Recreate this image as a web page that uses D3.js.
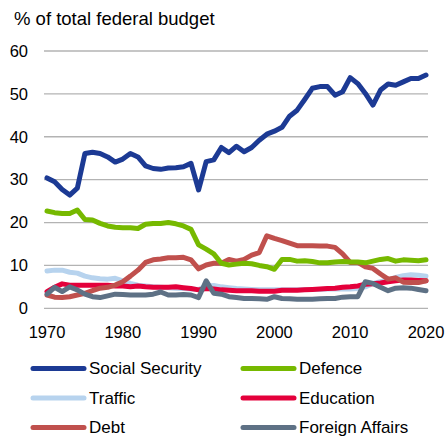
<!DOCTYPE html>
<html>
<head>
<meta charset="utf-8">
<script src="https://cdn.jsdelivr.net/npm/d3@7"></script>
<style>
  body { margin: 0; background: #fff; }
  svg { font-family: "Liberation Sans", Arial, sans-serif; }
</style>
</head>
<body>
<svg id="chart" width="446" height="438"></svg>
<script>
// years 1970..2020
const years = d3.range(1970, 2021)

const socialSecurity = [30.4, 29.5, 27.7, 26.4, 28.0, 36.1, 36.4, 36.1, 35.3, 34.1,
    34.8, 36.1, 35.3, 33.2, 32.6, 32.4, 32.7, 32.8, 33.0, 33.8,
    27.6, 34.2, 34.6, 37.5, 36.3, 37.8, 36.5, 37.5, 39.2, 40.6,
    41.3, 42.2, 44.8, 46.2, 48.7, 51.3, 51.7, 51.7, 49.7, 50.5,
    53.8, 52.4, 50.1, 47.4, 50.9, 52.3, 52.0, 52.8, 53.6, 53.6, 54.4]

const defence = [22.7, 22.3, 22.1, 22.1, 22.9, 20.7, 20.6, 19.8, 19.2, 18.9,
    18.8, 18.8, 18.6, 19.6, 19.8, 19.8, 20.0, 19.7, 19.2, 18.4,
    14.8, 13.8, 12.7, 10.5, 10.1, 10.3, 10.5, 10.4, 10.0, 9.7,
    9.1, 11.4, 11.4, 11.0, 11.1, 10.9, 10.6, 10.6, 10.8, 10.9,
    10.8, 10.8, 10.6, 11.0, 11.4, 11.6, 11.0, 11.3, 11.2, 11.1, 11.3]

const traffic = [8.7, 8.9, 8.9, 8.4, 8.2, 7.5, 7.1, 6.9, 6.8, 7.0,
    6.4, 5.8, 5.4, 5.2, 5.0, 4.9, 4.8, 4.7, 4.6, 4.5,
    4.4, 5.2, 5.3, 5.0, 4.8, 4.6, 4.5, 4.4, 4.3, 4.3,
    4.3, 4.3, 4.3, 4.3, 4.4, 4.4, 4.4, 4.5, 4.5, 4.5,
    4.5, 4.6, 5.0, 5.8, 6.2, 6.6, 7.2, 7.6, 7.8, 7.7, 7.5]

const education = [3.9, 4.9, 5.7, 5.4, 5.4, 5.4, 5.4, 5.4, 5.4, 5.2,
    5.2, 5.0, 5.2, 5.0, 4.9, 4.9, 4.9, 5.0, 4.8, 4.6,
    4.3, 4.6, 4.5, 4.3, 4.2, 4.1, 4.1, 4.1, 4.0, 4.0,
    4.0, 4.2, 4.2, 4.2, 4.3, 4.4, 4.5, 4.6, 4.7, 4.9,
    5.0, 5.2, 5.6, 5.7, 5.9, 6.2, 6.4, 6.6, 6.6, 6.5, 6.4]

const debt = [3.1, 2.6, 2.5, 2.7, 3.1, 3.5, 4.1, 4.7, 4.9, 5.4,
    6.2, 7.5, 8.9, 10.7, 11.3, 11.5, 11.8, 11.8, 11.9, 11.3,
    9.2, 10.1, 10.5, 10.5, 11.4, 11.0, 11.4, 12.4, 13.0, 16.9,
    16.3, 15.8, 15.2, 14.6, 14.6, 14.6, 14.5, 14.5, 14.2, 12.7,
    10.7, 10.7, 9.7, 9.3, 8.0, 6.8, 7.1, 6.1, 6.0, 6.0, 6.4]

const foreignAffairs = [3.3, 4.9, 3.9, 5.0, 4.3, 3.3, 2.7, 2.5, 2.9, 3.3,
    3.2, 3.1, 3.1, 3.1, 3.3, 3.8, 3.1, 3.1, 3.2, 3.1,
    2.5, 6.4, 3.5, 3.3, 2.7, 2.5, 2.3, 2.3, 2.2, 2.1,
    2.7, 2.3, 2.2, 2.1, 2.1, 2.1, 2.2, 2.3, 2.3, 2.6,
    2.7, 2.7, 6.2, 5.8, 4.9, 4.1, 4.7, 4.8, 4.7, 4.4, 4.1]

const yTicks = [0, 10, 20, 30, 40, 50, 60]
const xTicks = [1970, 1980, 1990, 2000, 2010, 2020]

// drawing order (back to front) and legend order
const series = [
    {name: "Traffic", values: traffic, color: "#b7d3ee"},
    {name: "Education", values: education, color: "#e4003b"},
    {name: "Debt", values: debt, color: "#c0504d"},
    {name: "Foreign Affairs", values: foreignAffairs, color: "#5e7185"},
    {name: "Defence", values: defence, color: "#76b900"},
    {name: "Social Security", values: socialSecurity, color: "#1c3a94"}
]
const legendOrder = ["Social Security", "Defence", "Traffic", "Education", "Debt", "Foreign Affairs"]

const svg = d3.select("#chart")

const xRange = d3.scaleLinear().domain([1970, 2020]).range([47, 426])
const yRange = d3.scaleLinear().domain([0, 60]).range([308.3, 51])

svg.append("text")
    .attr("x", 14).attr("y", 25)
    .attr("font-size", 18.5).attr("fill", "#000")
    .text("% of total federal budget")

// gridlines + y labels
const yAxis = svg.append("g")
yAxis.selectAll("line").data(yTicks).join("line")
    .attr("x1", 44).attr("x2", 428)
    .attr("y1", d => yRange(d)).attr("y2", d => yRange(d))
    .attr("stroke", "#b3b3b3").attr("stroke-width", 1.3)
yAxis.selectAll("text").data(yTicks).join("text")
    .attr("x", 28).attr("y", d => yRange(d))
    .attr("dy", "0.35em").attr("text-anchor", "end")
    .attr("font-size", 16.5).attr("fill", "#000")
    .text(d => d)

svg.append("g").selectAll("text").data(xTicks).join("text")
    .attr("x", d => xRange(d)).attr("y", 338)
    .attr("text-anchor", "middle")
    .attr("font-size", 16.5).attr("fill", "#000")
    .text(d => d)

const line = d3.line()
    .x((d, i) => xRange(years[i]))
    .y(d => yRange(d))

svg.append("g").selectAll("path").data(series).join("path")
    .attr("fill", "none")
    .attr("stroke", d => d.color)
    .attr("stroke-width", 5)
    .attr("stroke-linejoin", "round")
    .attr("stroke-linecap", "round")
    .attr("d", d => line(d.values))

// legend, 2 columns
const legend = svg.append("g")
legendOrder.forEach((name, i) => {
    const s = series.find(obj => obj.name == name)
    const col = i % 2, row = Math.floor(i / 2)
    const x0 = col == 0 ? 33 : 243
    const y0 = 368.5 + row * 29.5
    legend.append("line")
        .attr("x1", x0).attr("x2", x0 + 51)
        .attr("y1", y0).attr("y2", y0)
        .attr("stroke", s.color).attr("stroke-width", 5)
        .attr("stroke-linecap", "round")
    legend.append("text")
        .attr("x", x0 + 56).attr("y", y0)
        .attr("dy", "0.35em")
        .attr("font-size", 17).attr("fill", "#000")
        .text(name)
})
</script>
</body>
</html>
